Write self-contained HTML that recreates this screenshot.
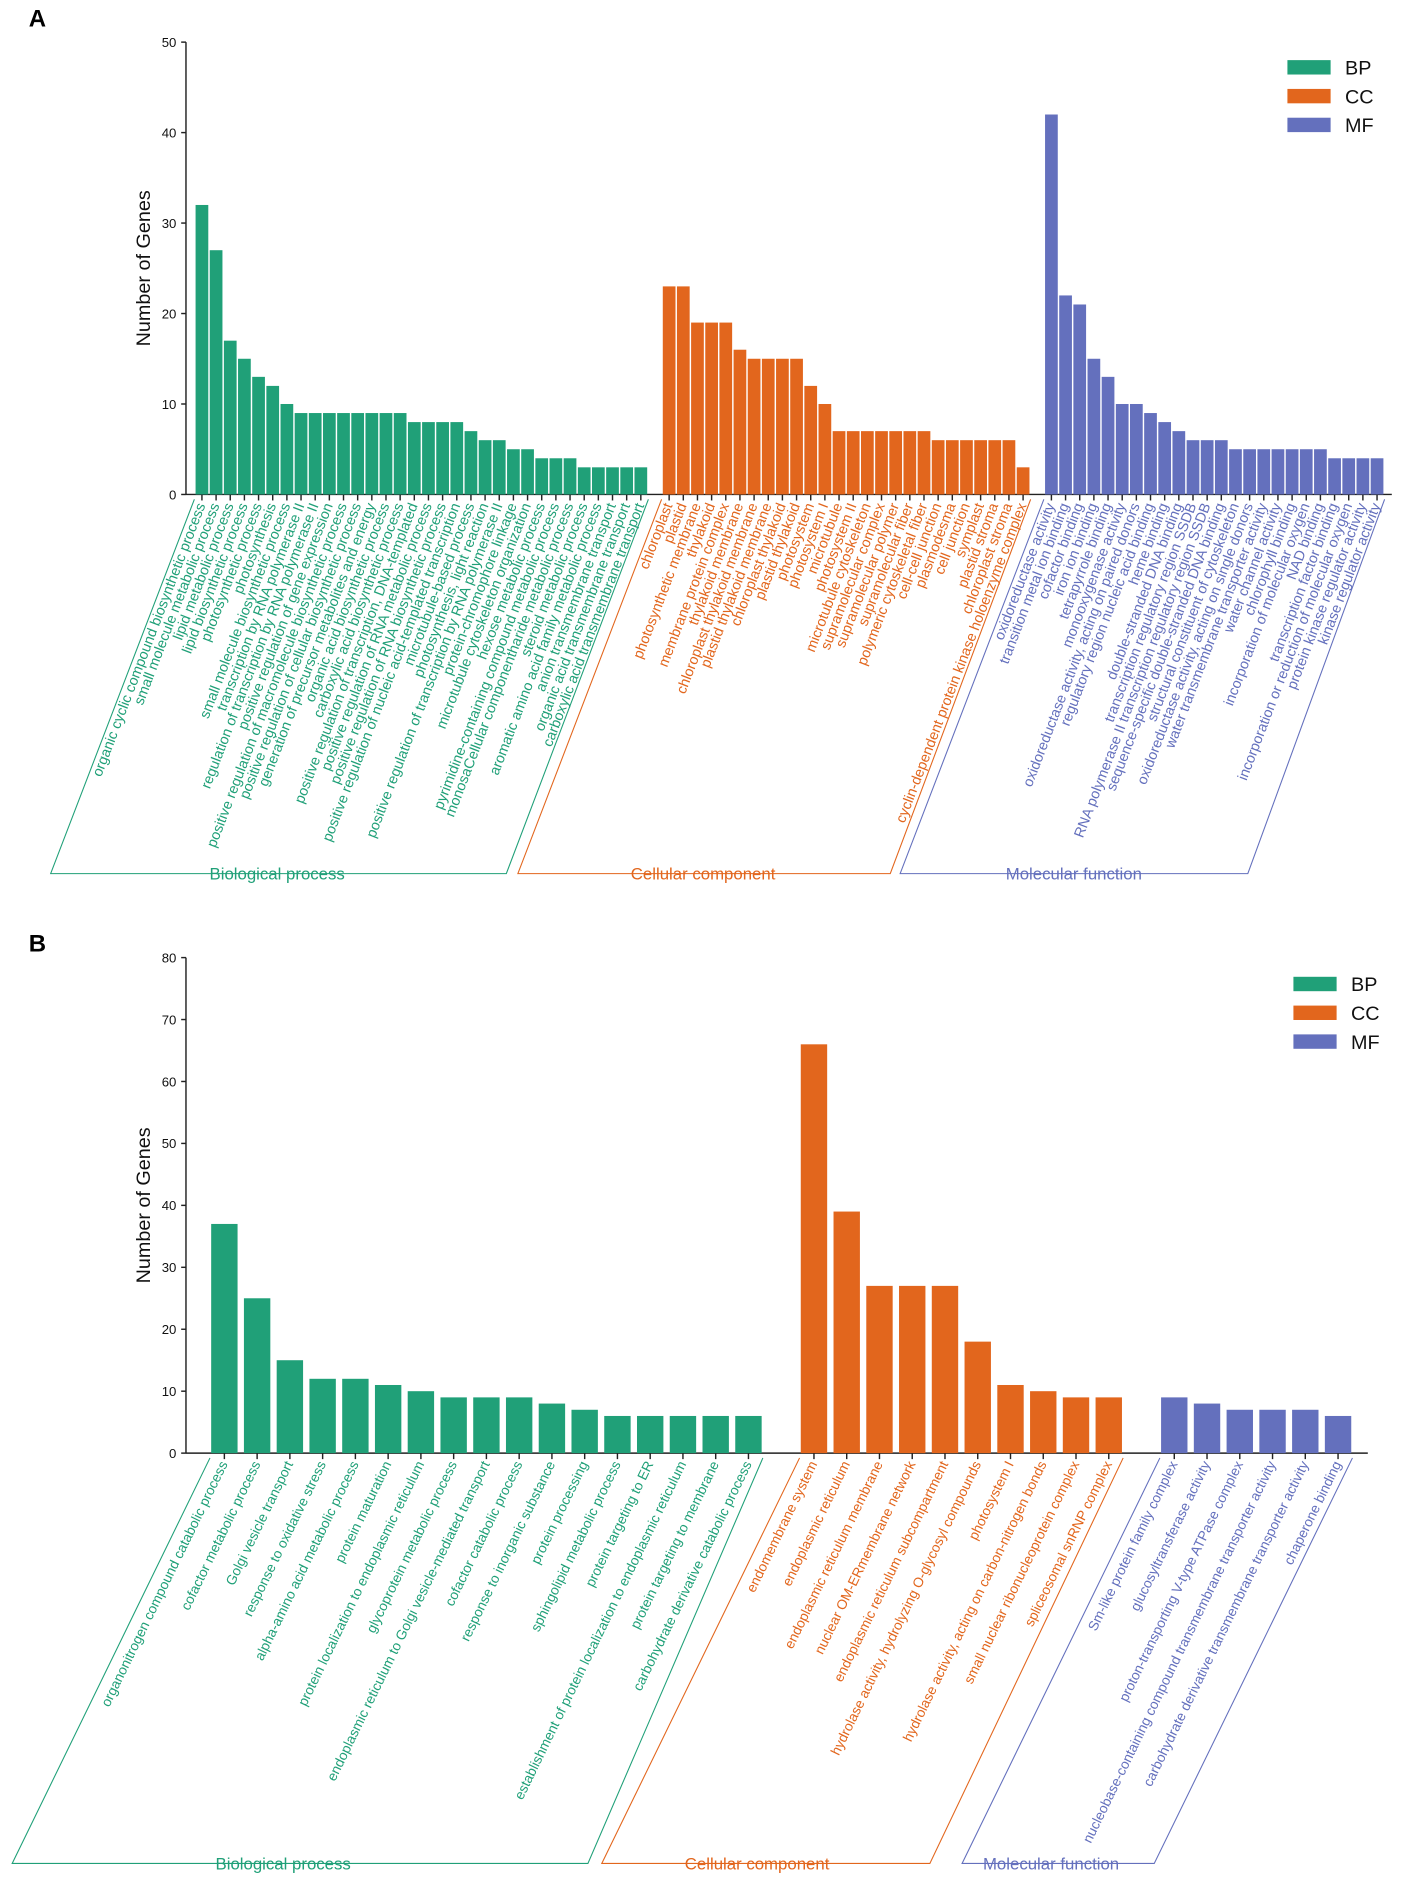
<!DOCTYPE html>
<html><head><meta charset="utf-8"><style>
html,body{margin:0;padding:0;background:#fff;}
svg{display:block;font-family:"Liberation Sans",Arial,sans-serif;}
</style></head><body>
<svg id="fig" width="1417" height="1887" viewBox="0 0 1181 1572.5" xmlns="http://www.w3.org/2000/svg"></svg>
<script>
// ---------- Panel A data ----------
const aBPLabels = ["organic cyclic compound biosynthetic process","small molecule metabolic process","lipid metabolic process","lipid biosynthetic process","photosynthetic process","photosynthesis","small molecule biosynthetic process","transcription by RNA polymerase II","regulation of transcription by RNA polymerase II","positive regulation of gene expression","positive regulation of macromolecule biosynthetic process","positive regulation of cellular biosynthetic process","generation of precursor metabolites and energy","organic acid biosynthetic process","carboxylic acid biosynthetic process","positive regulation of transcription, DNA-templated","positive regulation of RNA metabolic process","positive regulation of RNA biosynthetic process","positive regulation of nucleic acid-templated transcription","microtubule-based process","photosynthesis, light reaction","positive regulation of transcription by RNA polymerase II","protein-chromophore linkage","microtubule cytoskeleton organization","hexose metabolic process","pyrimidine-containing compound metabolic process","monosaCellular componentharide metabolic process","steroid metabolic process","aromatic amino acid family metabolic process","anion transmembrane transport","organic acid transmembrane transport","carboxylic acid transmembrane transport"];
const aBPValues = [32,27,17,15,13,12,10,9,9,9,9,9,9,9,9,8,8,8,8,7,6,6,5,5,4,4,4,3,3,3,3,3];
const aCCLabels = ["chloroplast","plastid","photosynthetic membrane","thylakoid","membrane protein complex","thylakoid membrane","chloroplast thylakoid membrane","plastid thylakoid membrane","chloroplast thylakoid","plastid thylakoid","photosystem","photosystem I","microtubule","photosystem II","microtubule cytoskeleton","supramolecular complex","supramolecular polymer","supramolecular fiber","polymeric cytoskeletal fiber","cell-cell junction","plasmodesma","cell junction","symplast","plastid stroma","chloroplast stroma","cyclin-dependent protein kinase holoenzyme complex"];
const aCCValues = [23,23,19,19,19,16,15,15,15,15,12,10,7,7,7,7,7,7,7,6,6,6,6,6,6,3];
const aMFLabels = ["oxidoreductase activity","transition metal ion binding","cofactor binding","iron ion binding","tetrapyrrole binding","monooxygenase activity","oxidoreductase activity, acting on paired donors","regulatory region nucleic acid binding","heme binding","double-stranded DNA binding","transcription regulatory region SSDB","RNA polymerase II transcription regulatory region SSDB","sequence-specific double-stranded DNA binding","structural constituent of cytoskeleton","oxidoreductase activity, acting on single donors","water transmembrane transporter activity","water channel activity","chlorophyll binding","incorporation of molecular oxygen","NAD binding","transcription factor binding","incorporation or reduction of molecular oxygen","protein kinase regulator activity","kinase regulator activity"];
const aMFValues = [42,22,21,15,13,10,10,9,8,7,6,6,6,5,5,5,5,5,5,5,4,4,4,4];
const aTicks = [0,10,20,30,40,50];
// ---------- Panel B data ----------
const bBPLabels = ["organonitrogen compound catabolic process","cofactor metabolic process","Golgi vesicle transport","response to oxidative stress","alpha-amino acid metabolic process","protein maturation","protein localization to endoplasmic reticulum","glycoprotein metabolic process","endoplasmic reticulum to Golgi vesicle-mediated transport","cofactor catabolic process","response to inorganic substance","protein processing","sphingolipid metabolic process","protein targeting to ER","establishment of protein localization to endoplasmic reticulum","protein targeting to membrane","carbohydrate derivative catabolic process"];
const bBPValues = [37,25,15,12,12,11,10,9,9,9,8,7,6,6,6,6,6];
const bCCLabels = ["endomembrane system","endoplasmic reticulum","endoplasmic reticulum membrane","nuclear OM-ERmembrane network","endoplasmic reticulum subcompartment","hydrolase activity, hydrolyzing O-glycosyl compounds","photosystem I","hydrolase activity, acting on carbon-nitrogen bonds","small nuclear ribonucleoprotein complex","spliceosomal snRNP complex"];
const bCCValues = [66,39,27,27,27,18,11,10,9,9];
const bMFLabels = ["Sm-like protein family complex","glucosyltransferase activity","proton-transporting V-type ATPase complex","nucleobase-containing compound transmembrane transporter activity","carbohydrate derivative transmembrane transporter activity","chaperone binding"];
const bMFValues = [9,8,7,7,7,6];
const bTicks = [0,10,20,30,40,50,60,70,80];

const COLORS = {BP:"#20a078", CC:"#e2661d", MF:"#6470bd"};
const NS = "http://www.w3.org/2000/svg";
const svg = document.getElementById('fig');
function mk(tag, attrs, parent, text){
  const e = document.createElementNS(NS, tag);
  for (const k in attrs) e.setAttribute(k, attrs[k]);
  if (text !== undefined) e.textContent = text;
  (parent||svg).appendChild(e);
  return e;
}

function panel(cfg){
  const g = mk('g', {});
  
  
  const yScale = v => cfg.y0 - (v / cfg.yMax) * (cfg.y0 - cfg.yTop);
  const xSlot = i => cfg.xStart + i * cfg.pitch;
  const L = mk('text', {x:cfg.letterX, y:cfg.letterY, 'font-size':20, 'font-weight':'bold', fill:'#000'}, g, cfg.letter);
  
  
  const ya = mk('line', {x1:cfg.axX, x2:cfg.axX, y1:cfg.yTop, y2:cfg.y0, stroke:'#222', 'stroke-width':1.2}, g);
  
  
  cfg.ticks.forEach(t => {
    const y = yScale(t);
    mk('line', {x1:cfg.axX-4, x2:cfg.axX, y1:y, y2:y, stroke:'#222', 'stroke-width':1.2}, g);
    const tl = mk('text', {x:cfg.axX-8, y:y+4, 'font-size':11, 'text-anchor':'end', fill:'#111'}, g, String(t));
    
    
  });
  const yt = mk('text', {x:0, y:0, 'font-size':16.5, 'text-anchor':'middle', fill:'#111', transform:`translate(${cfg.axX-30},${(cfg.yTop+cfg.y0)/2}) rotate(-90)`}, g, 'Number of Genes');
  
  
  const xa = mk('line', {x1:cfg.axX, x2:cfg.axEnd, y1:cfg.y0, y2:cfg.y0, stroke:'#222', 'stroke-width':1.2}, g);
  
  

  const groups = [
    {key:'BP', labels:cfg.bpL, values:cfg.bpV, start:0, title:'Biological process'},
    {key:'CC', labels:cfg.ccL, values:cfg.ccV, start:cfg.bpV.length+1, title:'Cellular component'},
    {key:'MF', labels:cfg.mfL, values:cfg.mfV, start:cfg.bpV.length+cfg.ccV.length+2, title:'Molecular function'}
  ];
  const rad = cfg.angle * Math.PI / 180;
  groups.forEach((grp, gi) => {
    const col = COLORS[grp.key];
    grp.values.forEach((v, i) => {
      const x = xSlot(grp.start + i);
      const y = yScale(v);
      const b = mk('rect', {x:x, y:y, width:cfg.barW, height:cfg.y0 - y, fill:col}, g);
      
      
      const cx = x + cfg.barW/2;
      mk('line', {x1:cx, x2:cx, y1:cfg.y0, y2:cfg.y0+5, stroke:'#222', 'stroke-width':1.2}, g);
      const t = mk('text', {x:0, y:0, 'font-size':cfg.labelFs, 'text-anchor':'end', fill:col,
        transform:`translate(${cx+3},${cfg.y0+9}) rotate(${-cfg.angle})`}, g, grp.labels[i]);
      
      
    });
    const xL = xSlot(grp.start) - 1;
    const xR = xSlot(grp.start + grp.values.length - 1) + cfg.barW + 1;
    const yT = cfg.y0 + 4, yB = cfg.bracketY;
    const dx = (yB - yT) / Math.tan(rad);
    const xBR = cfg.bracketRight[gi] !== undefined ? cfg.bracketRight[gi] : xR - dx;
    const br = mk('path', {d:`M${xL},${yT} L${xL-dx},${yB} L${xBR},${yB} L${xR},${yT}`, fill:'none', stroke:col, 'stroke-width':0.9}, g);
    
    
    const gt = mk('text', {x:cfg.groupX[gi], y:yB+5, 'font-size':14, 'text-anchor':'middle', fill:col}, g, grp.title);
    
    
  });
  ['BP','CC','MF'].forEach((k, i) => {
    const y = cfg.legY + i * 24;
    const r = mk('rect', {x:cfg.legX, y:y, width:36, height:12, fill:COLORS[k]}, g);
    
    
    const t = mk('text', {x:cfg.legX+48, y:y+12, 'font-size':16.5, fill:'#111'}, g, k);
    
    
  });
}

panel({name:'panel-a', letter:'A', letterX:24, letterY:22, axX:155, axEnd:1160, y0:412, yTop:35, yMax:50, ticks:aTicks,
  xStart:163, pitch:11.8, barW:10.6, angle:69, labelFs:12, bracketY:728,
  bracketRight:[422,742,1040], groupX:[231,586,895],
  bpL:aBPLabels, bpV:aBPValues, ccL:aCCLabels, ccV:aCCValues, mfL:aMFLabels, mfV:aMFValues,
  legX:1073, legY:50});
panel({name:'panel-b', letter:'B', letterX:24, letterY:793, axX:155, axEnd:1140, y0:1211, yTop:798, yMax:80, ticks:bTicks,
  xStart:176, pitch:27.3, barW:22, angle:64, labelFs:11.5, bracketY:1553,
  bracketRight:[490,775,962], groupX:[236,631,876],
  bpL:bBPLabels, bpV:bBPValues, ccL:bCCLabels, ccV:bCCValues, mfL:bMFLabels, mfV:bMFValues,
  legX:1078, legY:814});
</script>
</body></html>
